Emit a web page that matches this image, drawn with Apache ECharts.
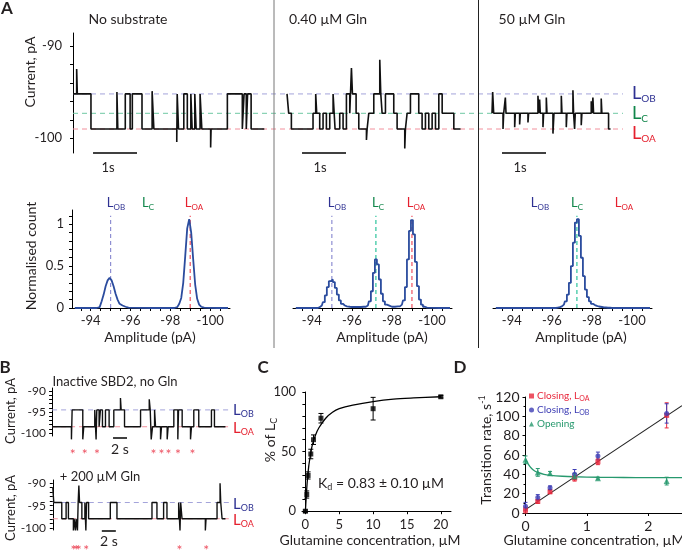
<!DOCTYPE html>
<html>
<head>
<meta charset="utf-8">
<script src="https://cdn.jsdelivr.net/npm/echarts@6.0.0/dist/echarts.min.js"></script>
<style>
html,body{margin:0;padding:0;background:#fff;}
#chart{width:682px;height:551px;}
</style>
</head>
<body>
<div id="chart"></div>
<script>
// ================= DATA =================
// Panel A - single-channel traces: dwell durations (ms) and current levels (pA)
const traceNoSubDur = [83,15,310,590,20,170,110,50,220,230,40,520,10,30,120,80,80,30,60,30,90,40,200,10,370,340,40,50,30,80,300];
const traceNoSubLvl = [-95.2,-92.5,-95.2,-99.0,-95.0,-99.0,-95.2,-99.0,-95.2,-99.0,-94.9,-99.0,-100.4,-95.2,-99.0,-95.2,-99.0,-95.2,-99.0,-95.2,-99.0,-95.2,-99.0,-101.0,-99.0,-95.2,-99.0,-95.2,-99.0,-95.2,-99.0];
const traceGln040Dur = [38,61,492,61,23,68,76,76,76,76,45,106,76,76,76,38,23,83,61,174,15,38,114,136,23,30,76,189,76,174,15,38,76,189,76,76,76,76,76,76,76,265,152];
const traceGln040Lvl = [-95.2,-97.3,-99.0,-97.3,-95.2,-97.3,-99.0,-97.3,-99.0,-97.3,-95.2,-99.0,-97.3,-99.0,-95.2,-97.3,-92.4,-95.2,-97.3,-99.0,-100.2,-99.0,-97.3,-95.2,-91.5,-95.2,-97.3,-95.2,-97.3,-99.0,-101.1,-99.0,-97.3,-95.2,-97.3,-99.0,-97.3,-99.0,-97.3,-99.0,-95.2,-97.3,-99.0];
const traceGln50Dur = [15,23,212,15,38,15,197,15,98,15,174,15,212,23,15,15,61,15,61,15,136,23,167,15,98,15,136,15,23,15,136,15,212,15,23,15,174,15,152,45];
const traceGln50Lvl = [-97.3,-95.0,-97.3,-99.0,-97.3,-95.6,-97.3,-98.8,-97.3,-98.5,-97.3,-98.3,-97.3,-95.4,-97.3,-95.8,-97.3,-98.8,-97.3,-95.6,-97.3,-99.5,-97.3,-95.4,-97.3,-98.8,-97.3,-94.8,-97.3,-99.0,-97.3,-98.6,-97.3,-96.0,-97.3,-95.6,-97.3,-95.7,-97.3,-99.0];
const levelsA = [-95.2, -97.3, -99.0];           // L_OB, L_C, L_OA
const traceTicksA = [-100,-98,-96,-94,-92,-90];
const traceLabelsA = [-100,-90];

// Panel A - amplitude histograms: [amplitude (pA), normalised count]
const histNoSub = [[-93.2,0],[-94.3,0],[-94.4,0.01],[-94.5,0.03],[-94.6,0.08],[-94.7,0.16],[-94.8,0.26],[-94.9,0.33],[-95.0,0.36],[-95.1,0.33],[-95.2,0.26],[-95.3,0.17],[-95.4,0.1],[-95.5,0.05],[-95.6,0.03],[-95.7,0.015],[-95.8,0.01],[-95.9,0.005],[-96.0,0],[-98.2,0],[-98.3,0.01],[-98.4,0.02],[-98.5,0.05],[-98.6,0.12],[-98.7,0.3],[-98.8,0.62],[-98.9,0.95],[-99.0,1.06],[-99.1,0.9],[-99.2,0.58],[-99.3,0.28],[-99.4,0.11],[-99.5,0.04],[-99.6,0.015],[-99.7,0.005],[-99.8,0],[-100.9,0]];
const histGln040 = [[-93.2,0],[-94.3,0],[-94.4,0.01],[-94.5,0.03],[-94.6,0.07],[-94.7,0.15],[-94.8,0.25],[-94.9,0.32],[-95.0,0.34],[-95.1,0.31],[-95.2,0.24],[-95.3,0.16],[-95.4,0.09],[-95.5,0.05],[-95.6,0.03],[-95.7,0.02],[-95.8,0.015],[-96.0,0.012],[-96.3,0.012],[-96.6,0.015],[-96.8,0.03],[-96.9,0.08],[-97.0,0.2],[-97.1,0.42],[-97.2,0.58],[-97.3,0.52],[-97.4,0.34],[-97.5,0.17],[-97.6,0.08],[-97.7,0.04],[-97.8,0.025],[-98.0,0.015],[-98.3,0.02],[-98.5,0.04],[-98.6,0.09],[-98.7,0.25],[-98.8,0.58],[-98.9,0.92],[-99.0,1.05],[-99.1,0.88],[-99.2,0.55],[-99.3,0.26],[-99.4,0.1],[-99.5,0.04],[-99.6,0.015],[-99.7,0.005],[-99.8,0],[-100.9,0]];
const histGln50 = [[-93.2,0],[-96.2,0],[-96.3,0.005],[-96.4,0.01],[-96.5,0.02],[-96.6,0.04],[-96.7,0.08],[-96.8,0.16],[-96.9,0.3],[-97.0,0.5],[-97.1,0.78],[-97.2,1.02],[-97.3,1.06],[-97.4,0.86],[-97.5,0.6],[-97.6,0.38],[-97.7,0.22],[-97.8,0.13],[-97.9,0.08],[-98.0,0.05],[-98.1,0.035],[-98.2,0.025],[-98.3,0.018],[-98.4,0.012],[-98.6,0.006],[-98.8,0.003],[-99.0,0],[-100.9,0]];
const histLinesNoSub = [[-95.0,'OB'],[-99.0,'OA']];
const histLinesGln040 = [[-95.0,'OB'],[-97.2,'C'],[-99.0,'OA']];
const histLinesGln50 = [[-97.25,'C']];
const histTicks = [-93.5,-94,-94.5,-95,-95.5,-96,-96.5,-97,-97.5,-98,-98.5,-99,-99.5,-100,-100.5];
const histLabels = [-94,-96,-98,-100];
const histYTicks = [0,0.1,0.2,0.3,0.4,0.5,0.6,0.7,0.8,0.9,1,1.1];
const histYLabels = [0,0.5,1];

// Panel B - traces (durations in s, levels in pA)
const bNoGlnDur = [2.76,0.1,1.52,0.14,1.57,0.19,0.1,0.33,0.19,0.29,0.43,0.52,0.67,0.95,0.1,0.48,2.29,1.24,0.14,0.14,0.19,0.29,0.14,0.71,0.14,0.81,0.14,0.81,0.57,0.1,0.52,1.19,0.14,0.33,0.71,1.81,0.43,1.57];
const bNoGlnLvl = [-98.5,-101.5,-94.5,-101.5,-98.5,-94.5,-101.5,-94.5,-98.5,-94.5,-98.5,-94.5,-98.5,-94.5,-91.7,-94.5,-98.5,-94.5,-92.0,-94.5,-101.5,-98.5,-94.5,-98.5,-101.5,-98.5,-101.5,-98.5,-94.5,-101.5,-94.5,-98.5,-101.5,-98.5,-94.5,-98.5,-94.5,-98.5];
const bGlnDur = [0.14,1.14,0.62,0.33,0.71,0.1,0.19,0.1,0.19,0.1,0.1,0.1,0.33,0.43,0.14,0.1,0.29,3.1,0.95,5.0,0.71,0.95,0.48,1.67,0.19,0.1,0.19,3.33,0.1,1.57,0.43,0.1,0.19,0.48];
const bGlnLvl = [-91.0,-94.3,-97.9,-94.3,-97.9,-100.5,-97.9,-100.5,-97.9,-100.5,-94.3,-90.5,-94.3,-97.9,-94.3,-100.5,-94.3,-97.9,-94.3,-97.9,-94.3,-97.9,-94.3,-97.9,-94.3,-100.5,-94.3,-97.9,-100.5,-97.9,-94.3,-90.0,-94.3,-97.9];
const bNoGlnLevels = [-94.5, -98.5];   // L_OB, L_OA
const bGlnLevels = [-94.3, -97.9];
const asteriskNoGln = [2.96,4.67,6.39,14.47,15.6,16.6,17.96,20.04];
const asteriskGln = [2.94,3.33,3.71,4.76,18.1,21.9];
const bTicks = [-100,-99,-98,-97,-96,-95,-94,-93,-92,-91,-90];
const bLabels = [-100,-95,-90];

// Panel C - % of L_C vs glutamine
const cConc = [0,0.2,0.4,0.8,1.2,2.3,10,20];
const cPct  = [0,14,30,48,60,78,86,96];
const cErr  = [1,3,3,4,4,4,9.5,1];
const cFitX = [0,0.25,0.5,0.75,1,1.5,2,3,4,5,7,10,13,16,20];
const cFitY = [0,23,38,47,55,64,70,78,83,86,89,92,94,95,96];
const cXTicks = [0,5,10,15,20];
const cYTicks = [0,10,20,30,40,50,60,70,80,90,100];
const cYLabels = [0,50,100];

// Panel D - transition rates
const dConc = [0,0.2,0.4,0.8,1.18,2.3];
const dCloseOA = [3,12,22,36,53,101];
const dCloseOAErr = [3,2,2,3,3,13];
const dCloseOB = [7,16,26,40,59,103];
const dCloseOBErr = [4,3,2,5,4,10];
const dOpen = [55,42,41,38,36,33];
const dOpenErr = [4,4,2,3,1,4];
const dLineX = [0,2.55];
const dLineY = [3.5,111];
const dFitX = [0,0.05,0.1,0.15,0.2,0.3,0.4,0.6,0.8,1.2,1.6,2.0,2.55];
const dFitY = [56,50,46,43.5,42,40,39,38,37.5,37,36.7,36.5,36.5];

// ================= STYLE / LAYOUT =================
const FONT = 'Lato, "Open Sans", sans-serif';
const TXT = '#231f20';
const C_OB = '#2e3192', C_C = '#10864a', C_OA = '#e5202e';
const DASH_OB = '#a3a3da', DASH_C = '#6fc9a3', DASH_OA = '#f2909c';
const HDASH = {OB:'#8f8fd2', C:'#2cc39b', OA:'#f0505e'};
const HIST_COL = '#2b4c9e';
const RED = '#e8283c', BLUE = '#3d3db4', GREEN = '#27996e';

const chart = echarts.init(document.getElementById('chart'), null, {renderer:'canvas'});

function steps(dur, lvl, t0){ const d=[]; let t=t0; for(let i=0;i<dur.length;i++){ d.push([t,lvl[i]]); t+=dur[i]; d.push([t,lvl[i]]);} return d; }
function zip(xs, ys){ return xs.map((x,i)=>[x, ys[i]]); }
function line(idx, data, color, width, extra){
  return Object.assign({type:'line', xAxisIndex:idx, yAxisIndex:idx, data, showSymbol:false, symbol:'none', clip:false, silent:true, animation:false, lineStyle:{color, width}, z:3}, extra||{});
}
function dashed(idx, data, color){ return line(idx, data, color, 1, {lineStyle:{color, width:1, type:[5,4]}, z:1}); }
function errSeries(idx, xs, ys, es, color, cap){
  return {type:'custom', xAxisIndex:idx, yAxisIndex:idx, silent:true, animation:false, z:4, clip:false,
    data: xs.map((x,i)=>[x, ys[i]-es[i], ys[i]+es[i]]),
    encode:{x:0, y:[1,2]},
    renderItem:(p, api)=>{
      const lo = api.coord([api.value(0), api.value(1)]);
      const hi = api.coord([api.value(0), api.value(2)]);
      const st = {stroke:color, lineWidth:1};
      return {type:'group', children:[
        {type:'line', shape:{x1:lo[0],y1:lo[1],x2:hi[0],y2:hi[1]}, style:st},
        {type:'line', shape:{x1:lo[0]-cap,y1:lo[1],x2:lo[0]+cap,y2:lo[1]}, style:st},
        {type:'line', shape:{x1:hi[0]-cap,y1:hi[1],x2:hi[0]+cap,y2:hi[1]}, style:st}]};
    }};
}
const axLine = {show:true, lineStyle:{color:'#000', width:1}};
function axis(grid, o){
  const a = {gridIndex:grid, type:'value', splitLine:{show:false}, axisLine:axLine,
    axisTick:{show:true, inside:false, length:3, lineStyle:{color:'#000', width:1}},
    axisLabel:{color:TXT, fontFamily:FONT, fontSize:13, margin:8}};
  if (o.ticks) a.axisTick.customValues = o.ticks;
  if (o.labels) a.axisLabel.customValues = o.labels;
  if (o.fontSize) a.axisLabel.fontSize = o.fontSize;
  if (o.margin !== undefined) a.axisLabel.margin = o.margin;
  if (o.hideMax) a.axisLabel.showMaxLabel = false;
  ['min','max','interval','inverse','show','minorTick'].forEach(k=>{ if (o[k]!==undefined) a[k]=o[k]; });
  return a;
}

const grids = [
  {left:72, top:33, width:551, height:120},   // A traces
  {left:72, top:210, width:158, height:98},   // A hist 1
  {left:293, top:210, width:159, height:98},  // A hist 2
  {left:493, top:210, width:159, height:98},  // A hist 3
  {left:50, top:388, width:180, height:48},   // B top
  {left:50, top:480, width:180, height:50},   // B bottom
  {left:302, top:392, width:149, height:121}, // C
  {left:525.5, top:397, width:156.5, height:116} // D
].map(g=>Object.assign(g, {outerBoundsMode:'none', containLabel:false}));

const xAxes = [
  axis(0, {min:-23, max:12500, show:false}),
  axis(1, {min:-101, max:-93.06, inverse:true, ticks:histTicks, labels:histLabels, margin:6}),
  axis(2, {min:-101, max:-93.06, inverse:true, ticks:histTicks, labels:histLabels, margin:6}),
  axis(3, {min:-101, max:-93.06, inverse:true, ticks:histTicks, labels:histLabels, margin:6}),
  axis(4, {min:-0.3, max:25.4, show:false}),
  axis(5, {min:-0.4, max:25.3, show:false}),
  axis(6, {min:-0.5, max:21.5, ticks:cXTicks, labels:cXTicks, margin:5}),
  axis(7, {min:0, max:2.55, interval:1, margin:6, fontSize:14, hideMax:true})
];
const yAxes = [
  axis(0, {min:-101.6, max:-88.6, ticks:traceTicksA, labels:traceLabelsA, margin:10}),
  axis(1, {min:0, max:1.17, ticks:histYTicks, labels:histYLabels, margin:8}),
  axis(2, {min:0, max:1.17, show:false}),
  axis(3, {min:0, max:1.17, show:false}),
  axis(4, {min:-100.7, max:-89.3, ticks:bTicks, labels:bLabels, margin:4, fontSize:12}),
  axis(5, {min:-100.4, max:-89.3, ticks:bTicks, labels:bLabels, margin:4, fontSize:12}),
  axis(6, {min:-1.5, max:100, ticks:cYTicks, labels:cYLabels, margin:6}),
  axis(7, {min:0, max:120, interval:20, margin:6, fontSize:14, hideMax:false, minorTick:{show:true, splitNumber:2, length:2, lineStyle:{color:'#000'}}})
];

const series = [];
// ---- Panel A traces
const dashA = [DASH_OB, DASH_C, DASH_OA];
levelsA.forEach((lv,i)=>series.push(dashed(0, [[0,lv],[12500,lv]], dashA[i])));
series.push(line(0, steps(traceNoSubDur, traceNoSubLvl, 0), '#111', 1.6));
series.push(line(0, steps(traceGln040Dur, traceGln040Lvl, 4864), '#111', 1.6));
series.push(line(0, steps(traceGln50Dur, traceGln50Lvl, 9523), '#111', 1.6));
[455, 5205, 9750].forEach(s=>series.push(line(0, [[s,-101.6],[s+1000,-101.6]], '#000', 1.5)));
// ---- Panel A histograms
[[histNoSub,histLinesNoSub],[histGln040,histLinesGln040],[histGln50,histLinesGln50]].forEach((h,k)=>{
  h[1].forEach(l=>series.push(line(k+1, [[l[0],0],[l[0],1.1]], HDASH[l[1]], 1.2, {lineStyle:{color:HDASH[l[1]], width:1.2, type:[4,3]}, z:2})));
  series.push(line(k+1, h[0], HIST_COL, 1.8, {step:'middle', z:3}));
});
// ---- Panel B
[[4,bNoGlnLevels],[5,bGlnLevels]].forEach(p=>{
  series.push(dashed(p[0], [[0,p[1][0]],[25.4,p[1][0]]], DASH_OB));
  series.push(dashed(p[0], [[0,p[1][1]],[25.4,p[1][1]]], DASH_OA));
});
series.push(line(4, steps(bNoGlnDur, bNoGlnLvl, 0), '#111', 1.4));
series.push(line(5, steps(bGlnDur, bGlnLvl, 0), '#111', 1.4));
series.push(line(4, [[8.7,-101.2],[10.7,-101.2]], '#000', 1.5));
series.push(line(5, [[7.0,-100.6],[9.0,-100.6]], '#000', 1.5));
function stars(idx, ts, y){
  return {type:'scatter', xAxisIndex:idx, yAxisIndex:idx, clip:false, silent:true, animation:false, symbolSize:1,
    itemStyle:{color:'rgba(0,0,0,0)'}, data: ts.map(t=>[t,y]),
    label:{show:true, position:'inside', formatter:'*', color:RED, fontSize:14, fontFamily:FONT}};
}
series.push(stars(4, asteriskNoGln, -105.2));
series.push(stars(5, asteriskGln, -105.0));
// ---- Panel C
series.push(line(6, zip(cFitX, cFitY), '#000', 1.3, {smooth:0.3}));
series.push(errSeries(6, cConc, cPct, cErr, '#000', 2.5));
series.push({type:'scatter', xAxisIndex:6, yAxisIndex:6, silent:true, animation:false, symbol:'rect', symbolSize:5, itemStyle:{color:'#000'}, data:zip(cConc, cPct), z:5});
// ---- Panel D
series.push(line(7, zip(dLineX, dLineY), '#222', 1.1));
series.push(line(7, zip(dFitX, dFitY), GREEN, 1.3, {smooth:0.4}));
series.push(errSeries(7, dConc, dCloseOA, dCloseOAErr, RED, 2));
series.push(errSeries(7, dConc, dCloseOB, dCloseOBErr, BLUE, 2));
series.push(errSeries(7, dConc, dOpen, dOpenErr, GREEN, 2));
series.push({type:'scatter', name:'cOA', xAxisIndex:7, yAxisIndex:7, animation:false, symbol:'rect', symbolSize:5, itemStyle:{color:RED}, data:zip(dConc,dCloseOA), z:5});
series.push({type:'scatter', name:'cOB', xAxisIndex:7, yAxisIndex:7, animation:false, symbol:'circle', symbolSize:5, itemStyle:{color:BLUE}, data:zip(dConc,dCloseOB), z:5});
series.push({type:'scatter', name:'open', xAxisIndex:7, yAxisIndex:7, animation:false, symbol:'triangle', symbolSize:6, itemStyle:{color:GREEN}, data:zip(dConc,dOpen), z:5});

// ---- Text / graphics
function txt(x, y, text, o){
  o = o || {};
  const st = {text, fill:o.color||TXT, fontFamily:FONT, fontSize:o.size||14, fontWeight:o.weight||'normal',
    align:o.align||'center', verticalAlign:'middle', textAlign:o.align||'center', textVerticalAlign:'middle'};
  if (o.rich) st.rich = o.rich;
  return {type:'text', x, y, rotation:o.rot||0, style:st, z:100, silent:true};
}
function rich(sz, sub){ return {
  n:{fill:TXT, fontFamily:FONT, fontSize:sz, lineHeight:sz+3},
  s:{fill:TXT, fontFamily:FONT, fontSize:sub, lineHeight:sub, verticalAlign:'bottom'},
  p:{fill:TXT, fontFamily:FONT, fontSize:sub, lineHeight:sub+8, verticalAlign:'top'}}; }
function L(x, y, sub, color, big, small, align){
  return txt(x, y, '{l|L}{s|'+sub+'}', {align:align||'center', rich:{
    l:{fill:color, fontFamily:FONT, fontSize:big, lineHeight:big+3},
    s:{fill:color, fontFamily:FONT, fontSize:small, lineHeight:small, verticalAlign:'bottom'}}});
}
const graphics = [
  {type:'line', shape:{x1:274, y1:0, x2:274, y2:348}, style:{stroke:'#777', lineWidth:1}, z:50, silent:true},
  {type:'line', shape:{x1:478.5, y1:0, x2:478.5, y2:348}, style:{stroke:'#222', lineWidth:1}, z:50, silent:true},
  txt(7, 9, 'A', {size:17, weight:'bold'}),
  txt(5, 368, 'B', {size:17, weight:'bold'}),
  txt(263, 368, 'C', {size:17, weight:'bold'}),
  txt(460, 368, 'D', {size:17, weight:'bold'}),
  txt(128, 19, 'No substrate'), txt(328, 19, '0.40 µM Gln'), txt(532, 19, '50 µM Gln'),
  txt(30, 72, 'Current, pA', {rot:Math.PI/2}),
  txt(31, 256, 'Normalised count', {rot:Math.PI/2}),
  txt(150, 337, 'Amplitude (pA)'), txt(382, 337, 'Amplitude (pA)'), txt(581, 337, 'Amplitude (pA)'),
  txt(108, 168, '1s', {size:13}), txt(320, 168, '1s', {size:13}), txt(520, 168, '1s', {size:13}),
  L(632, 93, 'OB', C_OB, 18, 10, 'left'), L(632, 113, 'C', C_C, 18, 10, 'left'), L(632, 133, 'OA', C_OA, 18, 10, 'left'),
  L(116, 203, 'OB', C_OB, 13, 8), L(148, 203, 'C', C_C, 13, 8), L(194, 203, 'OA', C_OA, 13, 8),
  L(337, 203, 'OB', C_OB, 13, 8), L(378, 203, 'C', C_C, 13, 8), L(416, 203, 'OA', C_OA, 13, 8),
  L(540, 203, 'OB', C_OB, 13, 8), L(577, 203, 'C', C_C, 13, 8), L(624, 203, 'OA', C_OA, 13, 8),
  txt(115, 382, 'Inactive SBD2, no Gln', {size:13}),
  txt(100, 477, '+ 200 µM Gln', {size:13}),
  txt(11, 411, 'Current, pA', {rot:Math.PI/2, size:13}),
  txt(11, 508, 'Current, pA', {rot:Math.PI/2, size:13}),
  txt(120, 449, '2 s', {size:14}), txt(109, 541, '2 s', {size:14}),
  L(233, 410, 'OB', C_OB, 15, 9, 'left'), L(233, 428, 'OA', C_OA, 15, 9, 'left'),
  L(233, 504, 'OB', C_OB, 15, 9, 'left'), L(233, 520, 'OA', C_OA, 15, 9, 'left'),
  txt(270, 440, '{n|% of L}{s|C}', {rot:Math.PI/2, rich:rich(14, 9)}),
  txt(381, 483, '{n|K}{s|d}{n| = 0.83 ± 0.10 µM}', {rich:rich(14, 9)}),
  txt(370, 540, 'Glutamine concentration, µM'),
  txt(486, 450, '{n|Transition rate, s}{p|-1}', {rot:Math.PI/2, rich:rich(14, 9)}),
  txt(594, 540, 'Glutamine concentration, µM')
];

chart.setOption({
  animation:false,
  backgroundColor:'#fff',
  grid: grids,
  xAxis: xAxes,
  yAxis: yAxes,
  legend: {
    orient:'vertical', left:529, top:391, itemWidth:5, itemHeight:5, itemGap:3, padding:0,
    selectedMode:false,
    data:[{name:'cOA', icon:'rect'}, {name:'cOB', icon:'circle'}, {name:'open', icon:'triangle'}],
    formatter: n => n==='cOA' ? '{r|Closing, L}{rs|OA}' : (n==='cOB' ? '{b|Closing, L}{bs|OB}' : '{g|Opening}'),
    textStyle:{fontFamily:FONT, fontSize:10, padding:[0,0,0,-2], rich:{
      r:{color:RED, fontFamily:FONT, fontSize:10, lineHeight:12}, rs:{color:RED, fontFamily:FONT, fontSize:7, lineHeight:7, verticalAlign:'bottom'},
      b:{color:BLUE, fontFamily:FONT, fontSize:10, lineHeight:12}, bs:{color:BLUE, fontFamily:FONT, fontSize:7, lineHeight:7, verticalAlign:'bottom'},
      g:{color:GREEN, fontFamily:FONT, fontSize:10, lineHeight:12}}}
  },
  graphic: graphics,
  series: series
});
</script>
</body>
</html>
